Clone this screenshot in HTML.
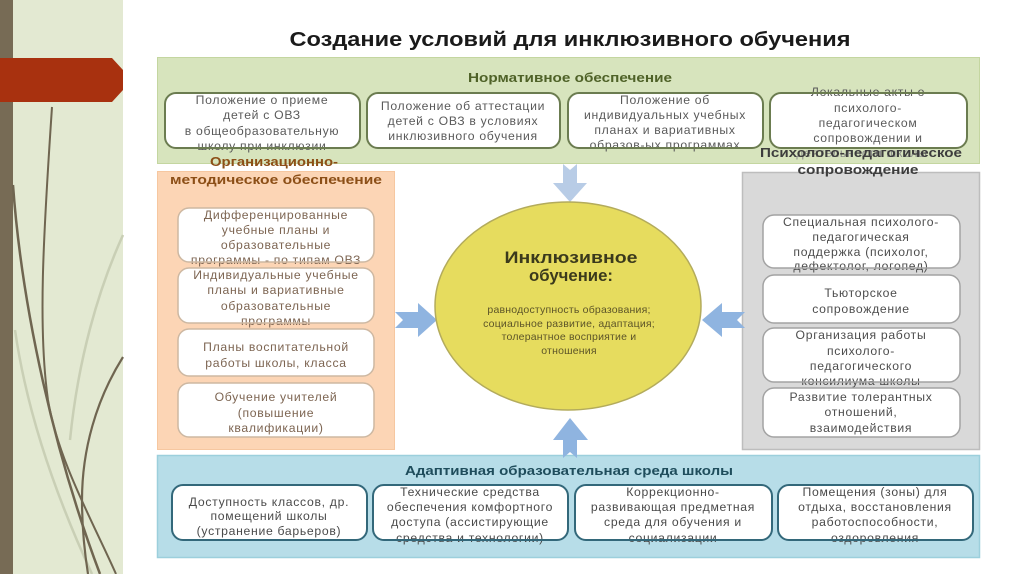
<!DOCTYPE html>
<html lang="ru">
<head>
<meta charset="utf-8">
<style>
  html,body{margin:0;padding:0;background:#fff;}
  body{width:1024px;height:574px;overflow:hidden;}
  svg{display:block;}
  .t{font-family:"Liberation Sans","DejaVu Sans",sans-serif;}
  .bx{font-size:12.2px;letter-spacing:0.7px;text-anchor:middle;}
  .hd{font-weight:bold;font-size:13px;text-anchor:middle;}
</style>
</head>
<body>
<svg width="1024" height="574" viewBox="0 0 1024 574" xmlns="http://www.w3.org/2000/svg" class="t">
  <rect x="0" y="0" width="1024" height="574" fill="#ffffff"/>

  <!-- left decoration -->
  <rect x="13" y="0" width="110" height="574" fill="#e3e9d2"/>
  <rect x="0" y="0" width="13" height="574" fill="#776b55"/>
  <path d="M123,235 C98,290 78,360 70,440" stroke="#c9cfb5" stroke-width="2.5" fill="none"/>
  <path d="M15,330 C28,420 60,505 92,574" stroke="#c9cfb5" stroke-width="2.5" fill="none"/>
  <path d="M13,185 C22,310 55,455 100,574" stroke="#6f6550" stroke-width="2.5" fill="none"/>
  <path d="M52,107 C43,240 38,330 48,400 C58,460 92,520 116,574" stroke="#6f6550" stroke-width="2" fill="none"/>
  <path d="M123,357 C96,400 82,450 82,500 C82,530 85,555 88,574" stroke="#6f6550" stroke-width="2.2" fill="none"/>
  <polygon points="0,58 112,58 123,70 123,90 112,102 0,102" fill="#a8310f"/>

  <!-- title -->
  <text x="570" y="46" font-size="20" font-weight="bold" fill="#1a1a1a" text-anchor="middle" textLength="561" lengthAdjust="spacingAndGlyphs">Создание условий для инклюзивного обучения</text>

  <!-- panels -->
  <rect x="157.5" y="57.5" width="822" height="106" fill="#d7e4bd" stroke="#c4d6a0" stroke-width="1"/>
  <rect x="157.5" y="171.5" width="237" height="278" fill="#fcd5b5" stroke="#f6c7a0" stroke-width="1"/>
  <rect x="742.5" y="172.5" width="237" height="277" fill="#d9d9d9" stroke="#bdbdbd" stroke-width="1.5"/>
  <rect x="157.5" y="455.5" width="822" height="102" fill="#b7dde8" stroke="#9ccfdc" stroke-width="1.5"/>

  <!-- box fills -->
  <g fill="#ffffff">
    <rect x="165" y="93" width="195" height="55" rx="11"/>
    <rect x="367" y="93" width="193" height="55" rx="11"/>
    <rect x="568" y="93" width="195" height="55" rx="11"/>
    <rect x="770" y="93" width="197" height="55" rx="11"/>

    <rect x="178" y="208" width="196" height="54" rx="11"/>
    <rect x="178" y="268" width="196" height="55" rx="11"/>
    <rect x="178" y="329" width="196" height="47" rx="11"/>
    <rect x="178" y="383" width="196" height="54" rx="11"/>

    <rect x="763" y="215" width="197" height="53" rx="11"/>
    <rect x="763" y="275" width="197" height="48" rx="11"/>
    <rect x="763" y="328" width="197" height="54" rx="11"/>
    <rect x="763" y="388" width="197" height="49" rx="11"/>

    <rect x="172" y="485" width="195" height="55" rx="11"/>
    <rect x="373" y="485" width="195" height="55" rx="11"/>
    <rect x="575" y="485" width="197" height="55" rx="11"/>
    <rect x="778" y="485" width="195" height="55" rx="11"/>
  </g>

  <!-- green box text -->
  <g class="bx" fill="#5a5a5a">
    <text x="262" y="104">Положение о приеме</text>
    <text x="262" y="119">детей с ОВЗ</text>
    <text x="262" y="135">в общеобразовательную</text>
    <text x="262" y="150">школу  при инклюзии</text>

    <text x="463" y="110">Положение об аттестации</text>
    <text x="463" y="125">детей с ОВЗ в условиях</text>
    <text x="463" y="140">инклюзивного обучения</text>

    <text x="665" y="104">Положение об</text>
    <text x="665" y="119">индивидуальных учебных</text>
    <text x="665" y="134">планах и вариативных</text>
    <text x="665" y="149">образов-ых программах</text>

    <text x="868" y="96">Локальные акты о</text>
    <text x="868" y="112">психолого-</text>
    <text x="868" y="127">педагогическом</text>
    <text x="868" y="142">сопровождении и</text>
    <text x="862" y="157" fill="#8a8a8a">деятельности школы</text>
  </g>

  <!-- orange box text -->
  <g class="bx" fill="#7d6552">
    <text x="276" y="219">Дифференцированные</text>
    <text x="276" y="234">учебные планы и</text>
    <text x="276" y="249">образовательные</text>
    <text x="276" y="264">программы - по типам ОВЗ</text>

    <text x="276" y="279">Индивидуальные учебные</text>
    <text x="276" y="294">планы и вариативные</text>
    <text x="276" y="310">образовательные</text>
    <text x="276" y="325">программы</text>

    <text x="276" y="351">Планы воспитательной</text>
    <text x="276" y="367">работы школы, класса</text>

    <text x="276" y="401">Обучение учителей</text>
    <text x="276" y="417">(повышение</text>
    <text x="276" y="432">квалификации)</text>
  </g>

  <!-- gray box text -->
  <g class="bx" fill="#4d4d4d">
    <text x="861" y="226">Специальная психолого-</text>
    <text x="861" y="241">педагогическая</text>
    <text x="861" y="256">поддержка (психолог,</text>
    <text x="861" y="270">дефектолог, логопед)</text>

    <text x="861" y="297">Тьюторское</text>
    <text x="861" y="313">сопровождение</text>

    <text x="861" y="339">Организация работы</text>
    <text x="861" y="355">психолого-</text>
    <text x="861" y="370">педагогического</text>
    <text x="861" y="385">консилиума школы</text>

    <text x="861" y="401">Развитие толерантных</text>
    <text x="861" y="416">отношений,</text>
    <text x="861" y="432">взаимодействия</text>
  </g>

  <!-- blue box text -->
  <g class="bx" fill="#4a4a4a">
    <text x="269" y="506">Доступность классов, др.</text>
    <text x="269" y="520">помещений школы</text>
    <text x="269" y="535">(устранение барьеров)</text>

    <text x="470" y="496">Технические средства</text>
    <text x="470" y="511">обеспечения комфортного</text>
    <text x="470" y="526">доступа (ассистирующие</text>
    <text x="470" y="542">средства и технологии)</text>

    <text x="673" y="496">Коррекционно-</text>
    <text x="673" y="511">развивающая предметная</text>
    <text x="673" y="526">среда для обучения и</text>
    <text x="673" y="542">социализации</text>

    <text x="875" y="496">Помещения (зоны) для</text>
    <text x="875" y="511">отдыха, восстановления</text>
    <text x="875" y="526">работоспособности,</text>
    <text x="875" y="542">оздоровления</text>
  </g>

  <!-- box strokes -->
  <g fill="none">
    <g stroke="#6b7c50" stroke-width="2">
      <rect x="165" y="93" width="195" height="55" rx="11"/>
      <rect x="367" y="93" width="193" height="55" rx="11"/>
      <rect x="568" y="93" width="195" height="55" rx="11"/>
      <rect x="770" y="93" width="197" height="55" rx="11"/>
    </g>
    <g stroke="#cdb8a2" stroke-width="1.5">
      <rect x="178" y="208" width="196" height="54" rx="11"/>
      <rect x="178" y="268" width="196" height="55" rx="11"/>
      <rect x="178" y="329" width="196" height="47" rx="11"/>
      <rect x="178" y="383" width="196" height="54" rx="11"/>
    </g>
    <g stroke="#a3a3a3" stroke-width="1.5">
      <rect x="763" y="215" width="197" height="53" rx="11"/>
      <rect x="763" y="275" width="197" height="48" rx="11"/>
      <rect x="763" y="328" width="197" height="54" rx="11"/>
      <rect x="763" y="388" width="197" height="49" rx="11"/>
    </g>
    <g stroke="#33687a" stroke-width="2">
      <rect x="172" y="485" width="195" height="55" rx="11"/>
      <rect x="373" y="485" width="195" height="55" rx="11"/>
      <rect x="575" y="485" width="197" height="55" rx="11"/>
      <rect x="778" y="485" width="195" height="55" rx="11"/>
    </g>
  </g>

  <!-- headers -->
  <text class="hd" x="570" y="82" fill="#4f6228" textLength="204" lengthAdjust="spacingAndGlyphs">Нормативное обеспечение</text>
  <text class="hd" x="274" y="166" fill="#8c4f17" textLength="128" lengthAdjust="spacingAndGlyphs">Организационно-</text>
  <text class="hd" x="276" y="184" fill="#8c4f17" textLength="212" lengthAdjust="spacingAndGlyphs">методическое обеспечение</text>
  <text class="hd" x="861" y="157" fill="#3d3d3d" textLength="202" lengthAdjust="spacingAndGlyphs">Психолого-педагогическое</text>
  <text class="hd" x="858" y="174" fill="#3d3d3d" textLength="121" lengthAdjust="spacingAndGlyphs">сопровождение</text>
  <text class="hd" x="569" y="475" fill="#1f4d5c" textLength="328" lengthAdjust="spacingAndGlyphs">Адаптивная образовательная среда школы</text>

  <!-- arrows -->
  <polygon points="563,164 563,183 553,183 570,202 587,183 577,183 577,164 570,170" fill="#b8cce6"/>
  <polygon points="395,312 418,312 418,303 437,320 418,337 418,328 395,328 403,320" fill="#8fb4e0"/>
  <polygon points="745,312 722,312 722,303 702,320 722,337 722,328 745,328 737,320" fill="#8fb4e0"/>
  <polygon points="563,458 563,440 553,440 570,418 588,440 577,440 577,458 570,452" fill="#8fb4e0"/>

  <!-- center circle -->
  <ellipse cx="568" cy="306" rx="133" ry="104" fill="#e6dc5e" stroke="#b3ab5c" stroke-width="1.5"/>
  <text x="571" y="263" font-size="17" font-weight="bold" fill="#3b3a1c" text-anchor="middle" textLength="133" lengthAdjust="spacingAndGlyphs">Инклюзивное</text>
  <text x="571" y="281" font-size="17" font-weight="bold" fill="#3b3a1c" text-anchor="middle" textLength="84" lengthAdjust="spacingAndGlyphs">обучение:</text>
  <g font-size="10.5" fill="#5c5428" text-anchor="middle" letter-spacing="0.2">
    <text x="569" y="313">равнодоступность образования;</text>
    <text x="569" y="327">социальное развитие, адаптация;</text>
    <text x="569" y="340">толерантное восприятие и</text>
    <text x="569" y="354">отношения</text>
  </g>
</svg>
</body>
</html>
